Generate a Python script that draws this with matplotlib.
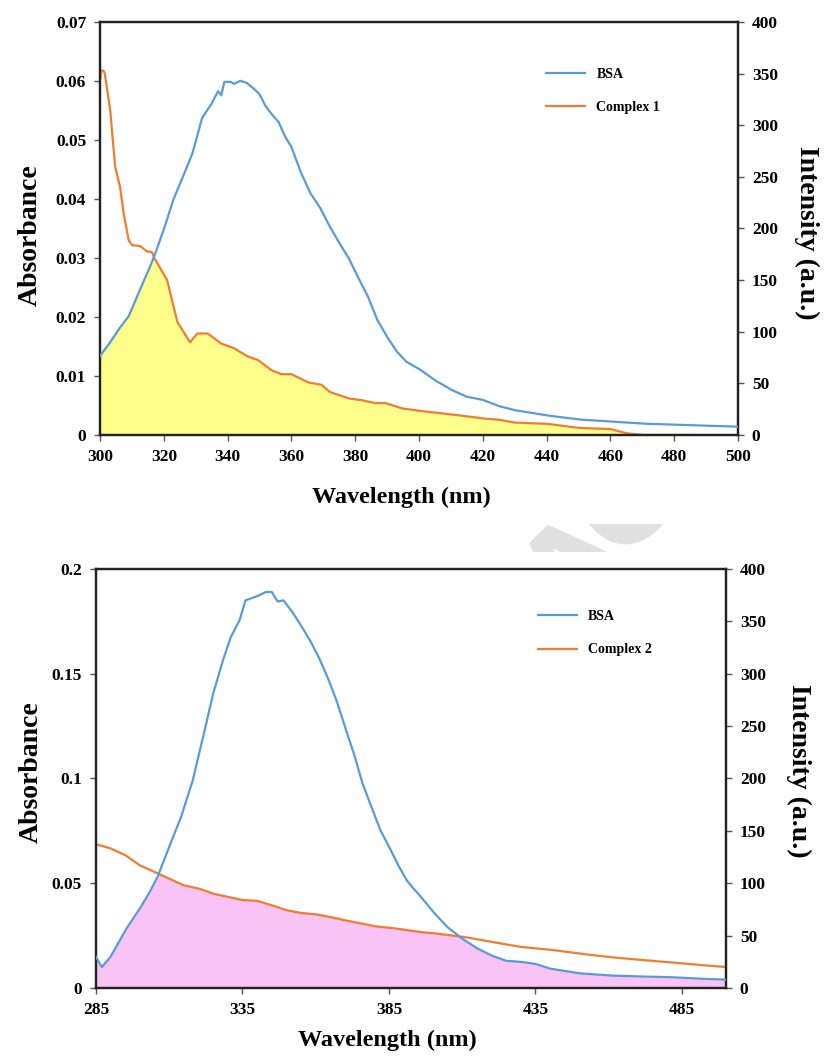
import numpy as np
import matplotlib.pyplot as plt

from matplotlib.patches import Rectangle

plt.rcParams['font.family'] = ['Liberation Serif', 'DejaVu Serif']
plt.rcParams['font.weight'] = 'bold'
plt.rcParams['axes.labelweight'] = 'bold'

# ---- panel 1: BSA emission vs Complex 1 absorption ----
wl1_cx = [300, 300.5, 301.4, 303.2, 304.7, 306.3, 307.4, 309, 310, 312.6, 314.7, 316.3,
          317, 321, 324.2, 328.2, 330.5, 333.7, 338, 342, 346.3, 349.5, 353.7, 356.8,
          360, 365.3, 369.5, 372, 377.9, 382, 386.3, 389.5, 394.7, 400, 410, 420, 425,
          430, 440, 450, 460, 465, 470, 478, 486]
abs_cx1 = [0.0603, 0.0618, 0.0616, 0.055, 0.0455, 0.042, 0.0375, 0.033, 0.0322, 0.032,
           0.0311, 0.031, 0.030, 0.0263, 0.0192, 0.0157, 0.0172, 0.0172, 0.0155, 0.0147,
           0.0133, 0.0127, 0.011, 0.0103, 0.0103, 0.0089, 0.0085, 0.0073, 0.0062, 0.0059,
           0.0054, 0.0054, 0.0045, 0.0041, 0.0035, 0.0028, 0.0026, 0.0021, 0.0019, 0.0012,
           0.0010, 0.0003, 0.0, 0.0, 0.0]

wl1_bsa = [300, 303, 306, 309, 312, 315, 317, 320, 323, 326, 329, 332, 335, 337, 338, 339,
           341, 342, 344, 346, 348, 350, 352, 354, 356, 358, 360, 363, 366, 369, 372, 375,
           378, 381, 384, 387, 390, 393, 396, 400, 405, 410, 415, 420, 425, 430, 440, 450,
           460, 470, 480, 490, 500]
int_bsa1 = [76.6, 88.9, 103, 115, 137, 158, 173, 199, 228, 250, 273, 307, 321, 333, 329, 342,
            342, 340, 343, 341, 336, 330, 318, 310, 303, 289, 279, 254, 234, 220, 202, 186,
            171, 152, 134, 111, 95, 81, 71, 64, 53, 44, 37, 34, 28, 24, 19, 15,
            13, 11, 10, 9, 8]

# ---- panel 2: BSA emission vs Complex 2 absorption ----
wl2_cx = [285, 290, 295, 300, 305, 310, 315, 320, 325, 330, 335, 340, 345, 350, 355, 360,
          365, 370, 375, 380, 385, 390, 395, 400, 410, 420, 430, 440, 450, 460, 470, 480,
          490, 500]
abs_cx2 = [0.0686, 0.0666, 0.0634, 0.0585, 0.0554, 0.0522, 0.049, 0.0475, 0.045, 0.0435,
           0.042, 0.0416, 0.0395, 0.0371, 0.0358, 0.0352, 0.0339, 0.0323, 0.031, 0.0295,
           0.0288, 0.0279, 0.0268, 0.0262, 0.0245, 0.022, 0.0196, 0.0183, 0.0164, 0.0148,
           0.0135, 0.0124, 0.0111, 0.010]

wl2_bsa = [285, 287, 290, 295, 300, 303, 306, 310, 314, 318, 321, 325, 328, 331, 334, 336,
           340, 343, 345, 347, 349, 352, 355, 358, 361, 364, 367, 370, 373, 376, 379, 382,
           385, 388, 391, 393, 395, 400, 405, 410, 415, 420, 425, 430, 435, 440, 450, 460,
           470, 480, 490, 500]
int_bsa2 = [29.6, 20, 30, 55, 76, 90, 106, 135, 163, 198, 233, 281, 310, 335, 351, 370,
            374, 378, 378, 369, 370, 359, 346, 332, 316, 297, 275, 249, 224, 195, 173, 151,
            135, 118, 103, 96, 90, 73, 58, 47, 38, 31, 26, 25, 23, 18.5, 14, 12,
            11, 10.5, 9, 8]

blue = '#5B9BD5'
orange = '#ED7D31'


def resample(x, y, step=0.25):
    xx = np.arange(x[0], x[-1] + 1e-9, step)
    return xx, np.interp(xx, x, y)


def panel(rect, wl_cx, a_cx, wl_b, i_b, amax, aticks, atlabels, xticks, fill, name,
          leg_pos, xlab_pos, alab_pos, ilab_pos):
    ax = fig.add_axes(rect)
    ax2 = ax.twinx()
    xc, yc = resample(wl_cx, a_cx)
    xb, yb = resample(wl_b, i_b)
    # overlap region: below both curves, in absorbance units
    yb_abs = np.interp(xc, xb, yb) * amax / 400.0
    ax.fill_between(xc, 0, np.minimum(yc, yb_abs), color=fill, lw=0, zorder=1)
    ax.plot(xc, yc, color=orange, lw=1.6, zorder=3)
    ax2.plot(xb, yb, color=blue, lw=1.6, zorder=3)
    ax.set_ylim(0, amax)
    ax2.set_ylim(0, 400)
    ax.set_xlim(xticks[0], 500)
    ax.set_xticks(xticks)
    ax.set_yticks(aticks)
    ax.set_yticklabels(atlabels)
    ax2.set_yticks(range(0, 401, 50))
    for a in (ax, ax2):
        a.tick_params(direction='out', length=4, width=1, labelsize=12.5, color='#555555', pad=6)
        for s in a.spines.values():
            s.set_linewidth(1.6)
            s.set_color('#222222')
    ax.set_xlabel('Wavelength (nm)', fontsize=17.5, fontweight='bold')
    ax.set_ylabel('Absorbance', fontsize=20, fontweight='bold')
    ax2.set_ylabel('Intensity (a.u.)', fontsize=20, rotation=270, fontweight='bold')
    ax.xaxis.set_label_coords(*xlab_pos)
    ax.yaxis.set_label_coords(*alab_pos)
    ax2.yaxis.set_label_coords(*ilab_pos)
    for lab in (ax.xaxis.label, ax.yaxis.label, ax2.yaxis.label):
        lab.set_ha('center')
        lab.set_va('center')
    ax2.plot([], [], color=blue, lw=1.6, label='BSA')
    ax2.plot([], [], color=orange, lw=1.6, label=name)
    ax2.legend(loc='upper left', bbox_to_anchor=leg_pos, frameon=False,
               fontsize=10, handlelength=2.8, labelspacing=1.5)
    ax.set_zorder(ax2.get_zorder() - 1)
    ax2.patch.set_visible(False)
    return ax


fig = plt.figure(figsize=(8.24, 10.56), dpi=100)

panel([0.1214, 0.5881, 0.7742, 0.3911], wl1_cx, abs_cx1, wl1_bsa, int_bsa1, 0.07,
      [0, 0.01, 0.02, 0.03, 0.04, 0.05, 0.06, 0.07],
      ['0', '0.01', '0.02', '0.03', '0.04', '0.05', '0.06', '0.07'],
      range(300, 501, 20), '#FFFF8C', 'Complex 1', (0.68, 0.92),
      (0.473, -0.150), (-0.11, 0.484), (1.108, 0.489))

panel([0.1165, 0.0644, 0.7645, 0.3968], wl2_cx, abs_cx2, wl2_bsa, int_bsa2, 0.2,
      [0, 0.05, 0.1, 0.15, 0.2], ['0', '0.05', '0.1', '0.15', '0.2'],
      [285, 335, 385, 435, 485], '#F9C3F5', 'Complex 2', (0.682, 0.933),
      (0.463, -0.124), (-0.102, 0.516), (1.116, 0.518))

# faint watermark letters showing in the gap between the panels
band = Rectangle((0, 0.477), 1, 0.027, transform=fig.transFigure)
for ch, x, y in [('A', 0.700, 0.458), ('C', 0.760, 0.520)]:
    wm = fig.text(x, y, ch, fontsize=85, color='#E0E0E0', rotation=45,
                  ha='center', va='center', family='DejaVu Sans', zorder=0)
    wm.set_clip_path(band)

fig.savefig('out.png', dpi=100)
